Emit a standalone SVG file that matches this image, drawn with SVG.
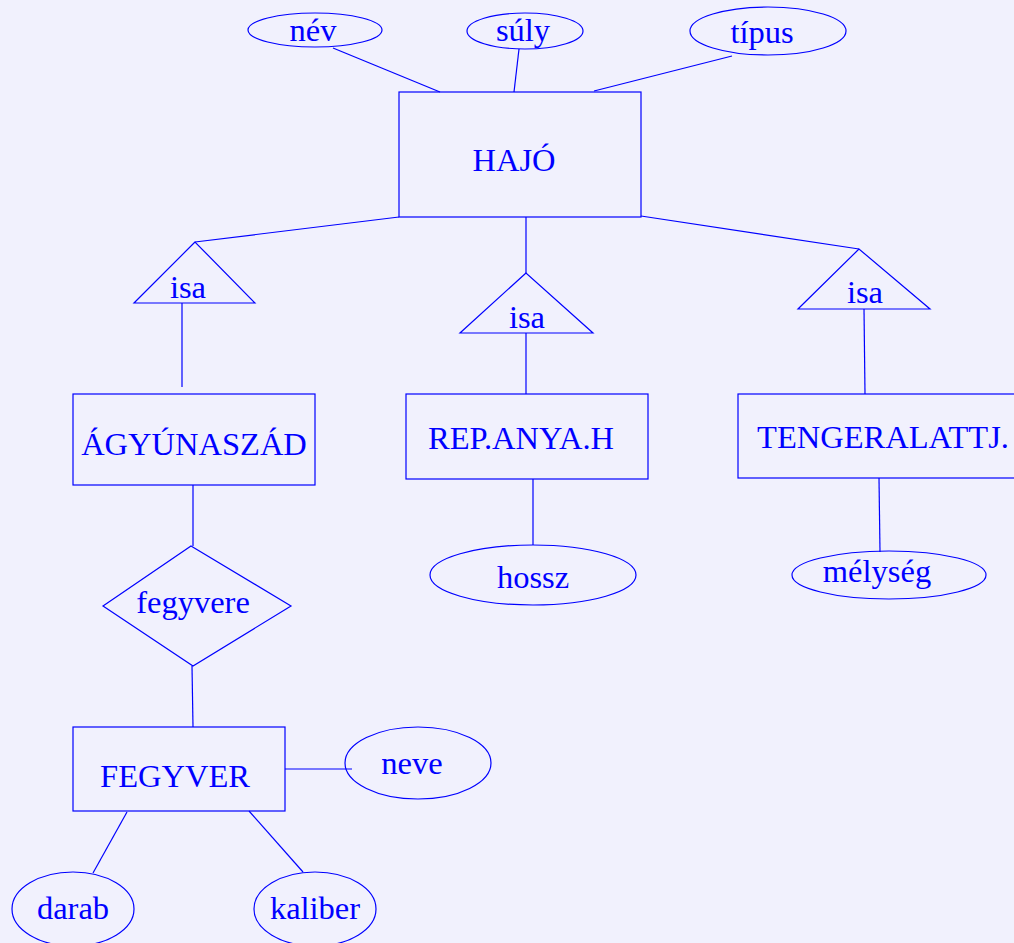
<svg xmlns="http://www.w3.org/2000/svg" width="1014" height="943" viewBox="0 0 1014 943">
<style>
.s{fill:none;stroke:#0000ff;stroke-width:1.2}
.t{font-family:"Liberation Serif","Times New Roman",serif;font-size:32.5px;fill:#0000ff;text-anchor:middle}
</style>
<rect x="0" y="0" width="1014" height="943" fill="#f1f1fd"/>
<g id="connectors" class="s">
<line x1="333" y1="48" x2="440" y2="92"/>
<line x1="519" y1="49" x2="514" y2="92"/>
<line x1="732" y1="56" x2="594" y2="91"/>
<line x1="399" y1="217" x2="195" y2="242"/>
<line x1="526" y1="217" x2="526" y2="273"/>
<line x1="641" y1="216" x2="859" y2="249"/>
<line x1="182" y1="303" x2="182" y2="387"/>
<line x1="526" y1="333" x2="526" y2="394"/>
<line x1="864" y1="309" x2="865" y2="394"/>
<line x1="193" y1="485" x2="193" y2="546"/>
<line x1="192" y1="666" x2="193" y2="727"/>
<line x1="533" y1="479" x2="533" y2="545"/>
<line x1="879" y1="478" x2="880" y2="552"/>
<line x1="285" y1="769" x2="352" y2="769"/>
<line x1="127" y1="812" x2="93" y2="873"/>
<line x1="249" y1="811" x2="303" y2="872"/>
</g>
<g id="hajo"><rect class="s" x="399" y="92" width="242" height="125"/><text class="t" x="514" y="171">HAJÓ</text></g>
<g id="nev"><ellipse class="s" cx="315" cy="30" rx="67" ry="17"/><text class="t" x="313" y="41">név</text></g>
<g id="suly"><ellipse class="s" cx="525" cy="31" rx="58" ry="18"/><text class="t" x="523" y="41">súly</text></g>
<g id="tipus"><ellipse class="s" cx="768" cy="31" rx="78" ry="24"/><text class="t" x="762" y="43">típus</text></g>
<g id="isa1"><polygon class="s" points="195,242 134,303 255,303"/><text class="t" x="188" y="298">isa</text></g>
<g id="isa2"><polygon class="s" points="526,273 460,333 593,333"/><text class="t" x="527" y="328">isa</text></g>
<g id="isa3"><polygon class="s" points="859,249 798,309 930,309"/><text class="t" x="865" y="303">isa</text></g>
<g id="agyunaszad"><rect class="s" x="73" y="394" width="242" height="91"/><text class="t" x="194" y="455">ÁGYÚNASZÁD</text></g>
<g id="repanyah"><rect class="s" x="406" y="394" width="242" height="85"/><text class="t" x="521" y="449">REP.ANYA.H</text></g>
<g id="tengeralattj"><rect class="s" x="738" y="394" width="290" height="84"/><text class="t" x="883" y="448">TENGERALATTJ.</text></g>
<g id="hossz"><ellipse class="s" cx="533" cy="575" rx="103" ry="30"/><text class="t" x="533" y="588">hossz</text></g>
<g id="melyseg"><ellipse class="s" cx="889" cy="575" rx="97" ry="24"/><text class="t" x="877" y="582">mélység</text></g>
<g id="fegyvere"><polygon class="s" points="191,546 291,606 193,666 103,606"/><text class="t" x="193" y="613">fegyvere</text></g>
<g id="fegyver"><rect class="s" x="73" y="727" width="212" height="84"/><text class="t" x="175" y="787">FEGYVER</text></g>
<g id="neve"><ellipse class="s" cx="418" cy="763" rx="73" ry="36"/><text class="t" x="412" y="774">neve</text></g>
<g id="darab"><ellipse class="s" cx="73" cy="909" rx="61" ry="37"/><text class="t" x="73" y="919">darab</text></g>
<g id="kaliber"><ellipse class="s" cx="315" cy="909" rx="61" ry="37"/><text class="t" x="315" y="919">kaliber</text></g>
</svg>
